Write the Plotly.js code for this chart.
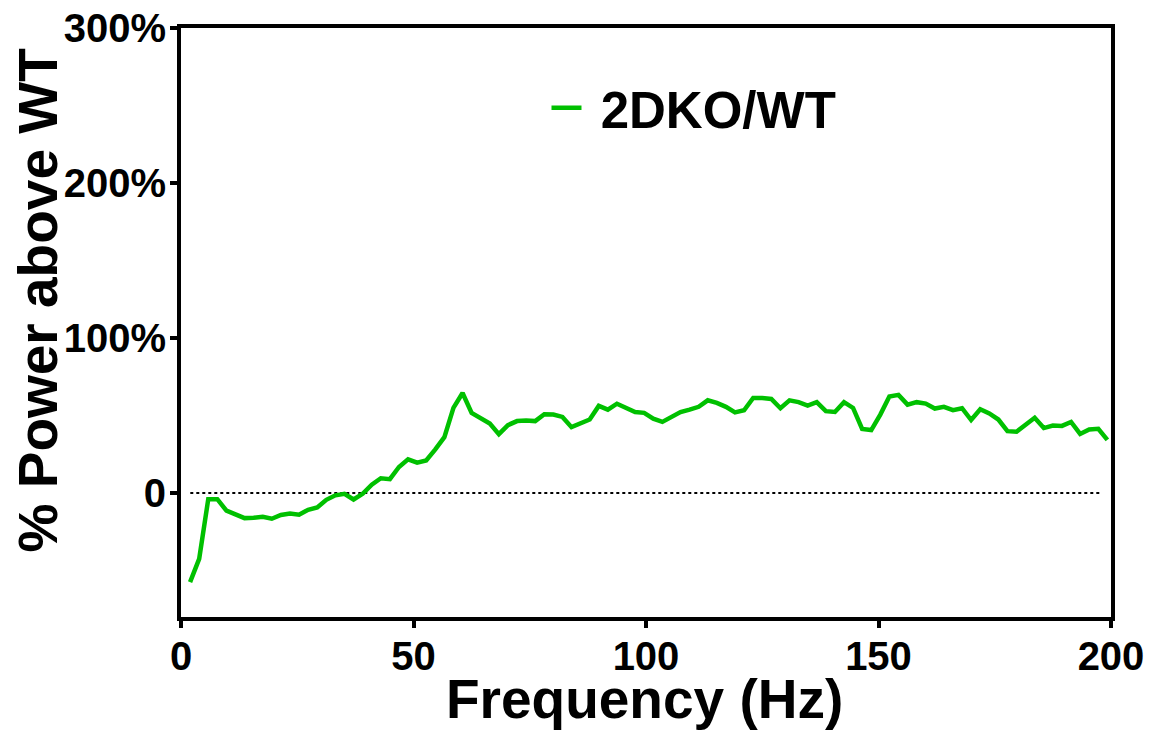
<!DOCTYPE html>
<html>
<head>
<meta charset="utf-8">
<script src="https://cdn.plot.ly/plotly-3.0.1.min.js"></script>
<style>
  html, body { margin: 0; padding: 0; background: #ffffff; }
  #chart { width: 1157px; height: 732px; }
</style>
</head>
<body>
<div id="chart"></div>
<script>
// Spectral bin centres (Hz)
const frequencyHz = [
  1.95, 3.91, 5.86, 7.81, 9.77, 11.72, 13.67, 15.63, 17.58, 19.53,
  21.48, 23.44, 25.39, 27.34, 29.30, 31.25, 33.20, 35.16, 37.11, 39.06,
  41.02, 42.97, 44.92, 46.88, 48.83, 50.78, 52.73, 54.69, 56.64, 58.59,
  60.55, 62.50, 64.45, 66.41, 68.36, 70.31, 72.27, 74.22, 76.17, 78.13,
  80.08, 82.03, 83.98, 85.94, 87.89, 89.84, 91.80, 93.75, 95.70, 97.66,
  99.61, 101.56, 103.52, 105.47, 107.42, 109.38, 111.33, 113.28, 115.23, 117.19,
  119.14, 121.09, 123.05, 125.00, 126.95, 128.91, 130.86, 132.81, 134.77, 136.72,
  138.67, 140.63, 142.58, 144.53, 146.48, 148.44, 150.39, 152.34, 154.30, 156.25,
  158.20, 160.16, 162.11, 164.06, 166.02, 167.97, 169.92, 171.88, 173.83, 175.78,
  177.73, 179.69, 181.64, 183.59, 185.55, 187.50, 189.45, 191.41, 193.36, 195.31,
  197.27, 199.22
];

// Power of 2DKO relative to WT, percent above WT
const powerAboveWT = [
  -57.5, -42.5, -4.0, -4.0, -11.4, -13.6, -16.2, -16.0, -15.3, -16.6,
  -14.2, -13.2, -14.0, -10.8, -9.3, -4.4, -1.5, -0.5, -4.2, -0.5,
  5.4, 9.5, 8.9, 16.8, 21.7, 19.6, 21.0, 28.1, 36.0, 54.9,
  64.5, 51.7, 48.5, 44.8, 38.0, 43.8, 46.4, 46.8, 46.4, 50.8,
  50.6, 49.1, 42.5, 45.3, 47.4, 56.2, 53.8, 57.6, 54.9, 52.2,
  51.7, 48.0, 45.9, 48.9, 52.2, 53.8, 55.6, 59.8, 58.1, 55.6,
  52.0, 53.4, 61.3, 61.3, 60.7, 54.7, 59.8, 58.6, 56.4, 58.6,
  52.8, 52.3, 58.6, 54.9, 41.3, 40.6, 50.6, 62.2, 63.3, 57.0,
  58.6, 57.7, 54.5, 55.6, 53.4, 54.7, 47.1, 54.0, 51.3, 47.4,
  39.9, 39.5, 44.0, 48.5, 41.9, 43.5, 43.3, 45.8, 38.1, 41.0,
  41.4, 34.3
];

// Tick positions and their labels
const yTickValues = [0, 100, 200, 300];
const yTickLabels = ['0', '100%', '200%', '300%'];
const xTickValues = [0, 50, 100, 150, 200];

const seriesName = '\u00a02DKO/WT';
const xTitle = 'Frequency (Hz)';
const yTitle = '% Power above WT';
const lineColor = 'rgb(0,192,0)';
const fontFamily = 'Arial, "Liberation Sans", Helvetica, sans-serif';

const traces = [{
  type: 'scatter',
  mode: 'lines',
  x: frequencyHz,
  y: powerAboveWT,
  name: seriesName,
  line: { color: lineColor, width: 4.5 },
  showlegend: true
}];

const axisCommon = {
  showline: true,
  linecolor: '#000000',
  linewidth: 4,
  mirror: true,
  ticks: 'outside',
  ticklen: 7,
  tickwidth: 4,
  tickcolor: '#000000',
  showgrid: false,
  zeroline: false,
  tickfont: { family: fontFamily, size: 40, color: '#000000', weight: 'bold' }
};

const titleFont = { family: fontFamily, size: 55, color: '#000000', weight: 'bold' };

const layout = {
  width: 1157,
  height: 732,
  margin: { l: 181, r: 46, t: 28, b: 115 },
  paper_bgcolor: '#ffffff',
  plot_bgcolor: '#ffffff',
  showlegend: true,
  legend: {
    x: 0.393,
    y: 0.864,
    xanchor: 'left',
    yanchor: 'middle',
    bgcolor: 'rgba(0,0,0,0)',
    font: { family: fontFamily, size: 51, color: '#000000', weight: 'bold' }
  },
  xaxis: Object.assign({}, axisCommon, {
    range: [0, 200],
    tickmode: 'array',
    tickvals: xTickValues,
    ticktext: xTickValues.map(String),
    ticklabelstandoff: -6
  }),
  yaxis: Object.assign({}, axisCommon, {
    range: [-80, 300],
    tickmode: 'array',
    tickvals: yTickValues,
    ticktext: yTickLabels,
    ticklabelstandoff: -4
  }),
  annotations: [
    {
      // x-axis title
      text: xTitle,
      xref: 'paper', yref: 'paper',
      x: 0.498, y: -0.1945,
      xanchor: 'center', yanchor: 'bottom',
      showarrow: false,
      font: titleFont
    },
    {
      // y-axis title
      text: yTitle,
      xref: 'paper', yref: 'paper',
      x: -0.154, y: 0.537,
      xanchor: 'center', yanchor: 'middle',
      textangle: -90,
      showarrow: false,
      font: titleFont
    }
  ],
  shapes: [{
    // dotted reference line at zero
    type: 'line',
    xref: 'paper', x0: 0.01, x1: 0.99,
    yref: 'y', y0: 0, y1: 0,
    line: { color: '#000000', width: 2, dash: 'dot' },
    layer: 'below'
  }]
};

Plotly.newPlot('chart', traces, layout, { displayModeBar: false, staticPlot: true });
</script>
</body>
</html>
